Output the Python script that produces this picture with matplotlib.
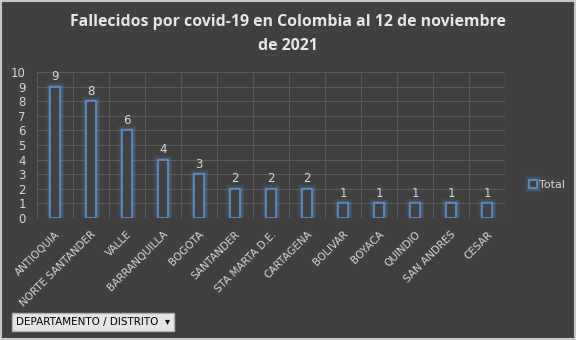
import matplotlib.pyplot as plt
import matplotlib.patheffects as pe
import numpy as np

# datos
departamentos = ['ANTIOQUIA', 'NORTE SANTANDER', 'VALLE', 'BARRANQUILLA', 'BOGOTA',
                 'SANTANDER', 'STA MARTA D.E.', 'CARTAGENA', 'BOLIVAR', 'BOYACA',
                 'QUINDIO', 'SAN ANDRES', 'CESAR']
fallecidos = [9, 8, 6, 4, 3, 2, 2, 2, 1, 1, 1, 1, 1]

bg = '#404040'
txt = '#d9d9d9'
azul = '#5b8fd0'

fig = plt.figure(figsize=(5.76, 3.40), dpi=100, facecolor=bg)
ax = fig.add_axes([37/576, 1-218/340, 468/576, 146/340])
ax.set_facecolor(bg)

x = np.arange(len(departamentos))
barras = ax.bar(x, fallecidos, width=0.28, color=bg, edgecolor=azul, linewidth=1.2,
                label='Total', zorder=3)
for b in barras:
    b.set_path_effects([pe.Stroke(linewidth=6, foreground=azul, alpha=0.12),
                        pe.Stroke(linewidth=3.5, foreground=azul, alpha=0.25),
                        pe.Normal()])

for xi, v in zip(x, fallecidos):
    ax.text(xi, v + 0.25, str(v), ha='center', va='bottom', color=txt, fontsize=8.5)

ax.set_xlim(-0.5, len(departamentos) - 0.5)
ax.set_ylim(0, 10)
ax.set_yticks(range(11))
ax.set_xticks(x)
ax.set_xticklabels(departamentos, rotation=45, ha='right', rotation_mode='anchor')
ax.tick_params(axis='both', length=0, colors=txt, labelsize=7.5)
ax.tick_params(axis='y', pad=8, labelsize=8.5)
ax.tick_params(axis='x', pad=8)

# grilla
ax.set_xticks(np.arange(-0.5, len(departamentos)), minor=True)
ax.tick_params(which='minor', length=0)
ax.grid(True, which='minor', axis='x', color='#5a5a5a', linewidth=0.8)
ax.grid(True, which='major', axis='y', color='#5a5a5a', linewidth=0.8)
for s in ax.spines.values():
    s.set_visible(False)

fig.text(0.5, 1-22/340, 'Fallecidos por covid-19 en Colombia al 12 de noviembre',
         ha='center', va='center', color='#e6e6e6', fontsize=11.4, fontweight='bold',
         family='Open Sans')
fig.text(0.5, 1-46/340, 'de 2021', ha='center', va='center', color='#e6e6e6',
         fontsize=11.4, fontweight='bold', family='Open Sans')

leg = fig.legend(handles=[barras[0]], labels=['Total'], loc='center left',
                 bbox_to_anchor=(519/576, 1-185/340), frameon=False,
                 handlelength=0.7, handleheight=0.7, handletextpad=0.2,
                 fontsize=8, labelcolor=txt)

fig.text(16/576, 1-322/340, 'DEPARTAMENTO / DISTRITO  \u25BE', ha='left', va='center',
         fontsize=7.5, color='black',
         bbox=dict(boxstyle='square,pad=0.4', facecolor='#e6e6e6', edgecolor='#b0b0b0'))

# marco
fig.patches.append(plt.Rectangle((0.001, 0.002), 0.997, 0.995, transform=fig.transFigure,
                                 fill=False, edgecolor='#c8c8c8', linewidth=1.5))

fig.savefig('out.png', dpi=100, facecolor=bg)
